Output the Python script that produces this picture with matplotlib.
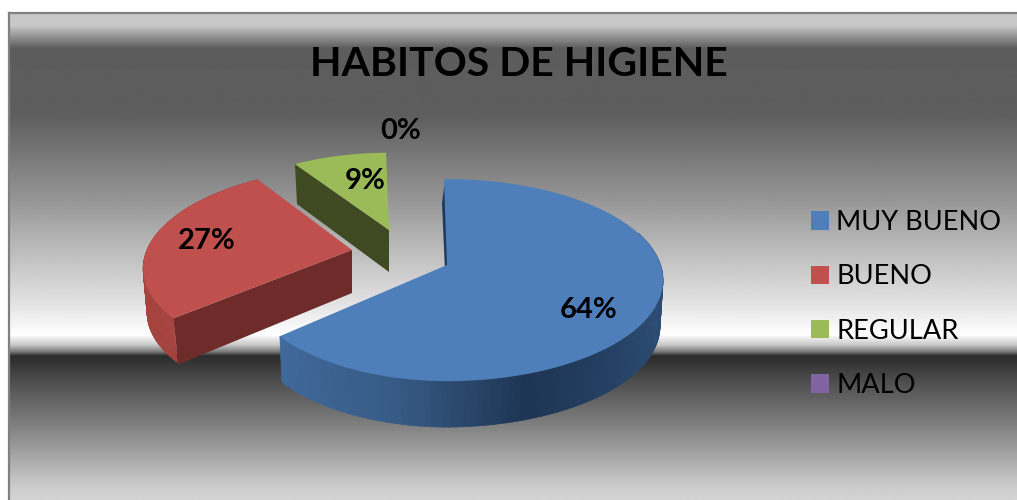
import numpy as np
import matplotlib
matplotlib.use("Agg")
import matplotlib.pyplot as plt
from matplotlib.collections import PolyCollection
from matplotlib.colors import LinearSegmentedColormap
from matplotlib.patches import Patch, Polygon

# ---- data ----
categories = ["MUY BUENO", "BUENO", "REGULAR", "MALO"]
values = [64, 27, 9, 0]
title = "HABITOS DE HIGIENE"

# ---- style ----
top_colors = ["#4f7fbb", "#c0504d", "#9bbb59", "#8064a2"]
cut_colors = ["#1f3a5c", "#6e2b29", "#404a22", "#40325a"]
apex = [(447, 265), (352, 250), (389, 230), (389, 230)]
scale = [1.0, 0.96, 0.9, 0.9]
depth = [46, 44, 40, 40]
shear = [0.0, -0.09, 0.0, 0.0]
left_squeeze = [0.93, 1.0, 1.0, 1.0]
label_pos = [(589, 310), (207, 241), (365, 181), (401, 131)]
A, B, K, ROT = 216.0, 101.0, 0.15, -1.0

bg_y = [13, 25, 48, 115, 190, 300, 335, 345, 352, 356, 387, 420, 453, 487, 500]
bg_v = [0xc8, 0xc8, 0x5c, 0x5e, 0x8f, 0xe0, 0xff, 0xc8, 0x78, 0x2c, 0x55, 0x7a, 0xa2, 0xcc, 0xd4]

blue_x = [279, 400, 530, 600, 663]
blue_c = ["#40699b", "#365a85", "#1e3554", "#233e60", "#2b4b72"]

fig = plt.figure(figsize=(10.17, 5.0), dpi=100, facecolor="white")
ax = fig.add_axes([0, 0, 1, 1])
ax.axis("off")

# background gradient
ys = np.arange(13, 501)
grad = np.interp(ys, bg_y, bg_v)[:, None] / 255.0
ax.imshow(grad, extent=(9, 1017, 500, 13), cmap="gray", vmin=0, vmax=1,
          aspect="auto", interpolation="bilinear", zorder=0)
ax.set_xlim(0, 1017)
ax.set_ylim(500, 0)
ax.plot([9, 9], [500, 13], color="#808080", lw=1.6, zorder=1)
ax.plot([9, 1017], [13, 13], color="#808080", lw=1.6, zorder=1)


def proj(theta_deg, r, i):
    """Perspective disc mapping of a pie point, in pixel coordinates."""
    th = np.radians(np.asarray(theta_deg, dtype=float) + ROT)
    u, v = r * np.sin(th), r * np.cos(th)
    d = 1 + K * v
    xx = u * np.sqrt(1 - K ** 2) / d
    xx = np.where(xx < 0, xx * left_squeeze[i], xx)
    yy = (v + K) / d
    ax0, ay0 = apex[i]
    s = scale[i]
    py = ay0 - B * s * (yy - K)
    return ax0 + A * s * xx + shear[i] * (py - ay0), py


total = sum(values)
edges = np.concatenate([[0], np.cumsum(values)]) * 360.0 / total
blue_cmap = LinearSegmentedColormap.from_list(
    "b", [((x - 279) / (663 - 279), c) for x, c in zip(blue_x, blue_c)])

# draw back to front: green, red, blue
for i in [2, 1, 0]:
    t0, t1 = edges[i], edges[i + 1]
    th = np.linspace(t0, t1, 160)
    rx, ry = proj(th, 1.0, i)
    ax0, ay0 = apex[i]
    dp = depth[i]
    px, py = proj(t0, 1.0, i)
    if i == 2:  # visible cut face from apex to the left vertex
        ax.add_patch(Polygon([(ax0, ay0), (px, py), (px + 2, py + dp), (ax0, ay0 + dp + 2)],
                             fc=cut_colors[i], ec="none", zorder=3))
    if i == 1:
        quads = [[(rx[j], ry[j]), (rx[j + 1], ry[j + 1]),
                  (rx[j + 1] + 4, ry[j + 1] + dp), (rx[j] + 4, ry[j] + dp)]
                 for j in range(len(th) - 1)]
        ax.add_collection(PolyCollection(quads, facecolors="#a5433f", edgecolors="#a5433f",
                                         linewidths=0.5, zorder=3))
        ax.add_patch(Polygon([(ax0, ay0), (px, py), (px + 5, py + dp + 2), (ax0, ay0 + dp - 1)],
                             fc=cut_colors[i], ec="none", zorder=4))
    if i == 0:
        # thin sliver of the cut face at the top
        ax.add_patch(Polygon([(ax0 + 3, ay0 + 3), (px + 1, py + 1), (px - 2, py + 24), (ax0 - 2, ay0 + 6)],
                             fc=cut_colors[i], ec="none", zorder=3))
        # outer wall with horizontal shading
        quads, cols = [], []
        for j in range(len(th) - 1):
            if th[j] < 70:
                continue
            quads.append([(rx[j], ry[j]), (rx[j + 1], ry[j + 1]),
                          (rx[j + 1] + 2 * (rx[j + 1] < 447) - 3 * (rx[j + 1] >= 447), ry[j + 1] + dp),
                          (rx[j] + 2 * (rx[j] < 447) - 3 * (rx[j] >= 447), ry[j] + dp)])
            cols.append(blue_cmap(np.clip((rx[j] - 279) / (663 - 279), 0, 1)))
        ax.add_collection(PolyCollection(quads, facecolors=cols, edgecolors=cols,
                                         linewidths=0.5, zorder=3))
    top = [(ax0, ay0)] + list(zip(rx, ry))
    ax.add_patch(Polygon(top, fc=top_colors[i], ec="none", zorder=5))

# data labels
for v, (x, y) in zip(values, label_pos):
    ax.text(x, y, f"{v}%", ha="center", va="center", fontsize=21, fontweight="bold",
            family="Lato", color="black", zorder=8)

ax.text(519, 64, title, ha="center", va="center", fontsize=29.5, fontweight="bold",
        family="Lato", color="black", zorder=8)

# legend
handles = [Patch(fc=c, ec="none", label=n) for c, n in zip(top_colors, categories)]
ax.legend(handles=handles, loc="center left", bbox_to_anchor=(811 / 1017, 1 - 304 / 500),
          frameon=False, prop={"family": "Lato", "size": 19.6},
          handlelength=0.66, handleheight=0.66, handletextpad=0.27,
          labelspacing=1.08, borderpad=0, borderaxespad=0)

fig.savefig("out.png", dpi=100)
